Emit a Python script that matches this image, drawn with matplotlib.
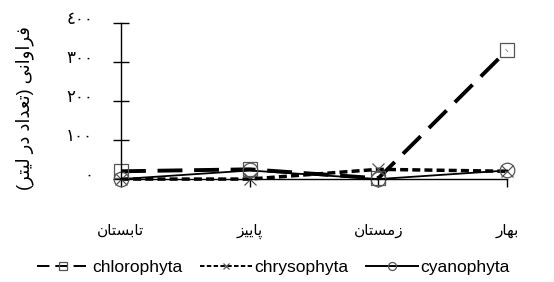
import matplotlib.pyplot as plt
from matplotlib.transforms import ScaledTranslation

# Arabic/Persian presentation forms: (isolated, final, initial, medial)
FORMS = {
    'ا': ('\uFE8D', '\uFE8E', None, None),
    'ب': ('\uFE8F', '\uFE90', '\uFE91', '\uFE92'),
    'ت': ('\uFE95', '\uFE96', '\uFE97', '\uFE98'),
    'س': ('\uFEB1', '\uFEB2', '\uFEB3', '\uFEB4'),
    'ن': ('\uFEE5', '\uFEE6', '\uFEE7', '\uFEE8'),
    'پ': ('\uFB56', '\uFB57', '\uFB58', '\uFB59'),
    'ی': ('\uFBFC', '\uFBFD', '\uFBFE', '\uFBFF'),
    'ز': ('\uFEAF', '\uFEB0', None, None),
    'م': ('\uFEE1', '\uFEE2', '\uFEE3', '\uFEE4'),
    'ه': ('\uFEE9', '\uFEEA', '\uFEEB', '\uFEEC'),
    'ر': ('\uFEAD', '\uFEAE', None, None),
    'ف': ('\uFED1', '\uFED2', '\uFED3', '\uFED4'),
    'و': ('\uFEED', '\uFEEE', None, None),
    'ع': ('\uFEC9', '\uFECA', '\uFECB', '\uFECC'),
    'د': ('\uFEA9', '\uFEAA', None, None),
    'ل': ('\uFEDD', '\uFEDE', '\uFEDF', '\uFEE0'),
}


def shape(text):
    # join letters and put them in visual (left-to-right) order
    out = []
    for i, ch in enumerate(text):
        if ch not in FORMS:
            out.append(ch)
            continue
        prev = text[i - 1] if i > 0 else ''
        nxt = text[i + 1] if i + 1 < len(text) else ''
        join_prev = prev in FORMS and FORMS[prev][2] is not None
        join_next = nxt in FORMS and FORMS[ch][2] is not None
        iso, fin, ini, med = FORMS[ch]
        if join_prev and join_next:
            out.append(med)
        elif join_prev:
            out.append(fin)
        elif join_next:
            out.append(ini)
        else:
            out.append(iso)
    vis = ''.join(reversed(out))
    return vis.translate(str.maketrans('()', ')('))


seasons = ['تابستان', 'پاییز', 'زمستان', 'بهار']
chlorophyta = [20, 25, 2, 330]
chrysophyta = [0, 0, 25, 20]
cyanophyta = [0, 22, 0, 22]
y_ticks = [0, 100, 200, 300, 400]
y_tick_labels = ['٠', '١٠٠', '٢٠٠', '٣٠٠', '٤٠٠']
y_title = 'فراوانی (تعداد در لیتر)'

plt.rcParams['font.family'] = ['Liberation Sans', 'DejaVu Sans']

fig = plt.figure(figsize=(5.54, 2.82), dpi=100)
ax = fig.add_axes([0.2184, 0.365, 0.6968, 0.553])

x = range(len(seasons))
ax.plot(x, chlorophyta, color='black', lw=2.8, dashes=(6.4, 3),
        marker='s', ms=10.5, mfc='none', mec='#555555', mew=0.9,
        label='chlorophyta', clip_on=False)
ax.plot(x, chrysophyta, color='black', lw=2.5, dashes=(2.3, 1.2),
        marker='x', ms=9, mec='#555555', mew=0.9, label='chrysophyta',
        clip_on=False)
ax.plot(x, cyanophyta, color='black', lw=1.3,
        marker='o', ms=10.5, mfc='none', mec='#555555', mew=0.9,
        label='cyanophyta', clip_on=False)

ax.set_xlim(0, 3)
ax.set_ylim(0, 400)
ax.set_xticks(list(x))
ax.set_xticklabels([shape(s) for s in seasons], fontsize=11)
ax.set_yticks(y_ticks)
ax.set_yticklabels(y_tick_labels, fontsize=12)
ax.tick_params(axis='y', direction='inout', length=12, width=1, pad=14)
ax.tick_params(axis='x', direction='out', length=6, width=1, pad=26)
for s in ['top', 'right']:
    ax.spines[s].set_visible(False)
ax.spines['left'].set_linewidth(1)
ax.spines['bottom'].set_linewidth(1)
ax.set_ylabel(shape(y_title), fontsize=13)
ax.yaxis.set_label_coords(-0.225, 0.455)
shift = ScaledTranslation(0, 5 / 100, fig.dpi_scale_trans)
for lb in ax.get_yticklabels():
    lb.set_transform(lb.get_transform() + shift)

leg = ax.legend(loc='upper center', bbox_to_anchor=(0.395, -0.52), ncol=3,
                frameon=False, fontsize=12.5, handlelength=3.0,
                columnspacing=1.0, handletextpad=0.15, markerscale=0.55,
                borderpad=0, borderaxespad=0)
for h in leg.get_lines():
    h.set_linewidth(1.4)

fig.savefig('out.png', dpi=100)
